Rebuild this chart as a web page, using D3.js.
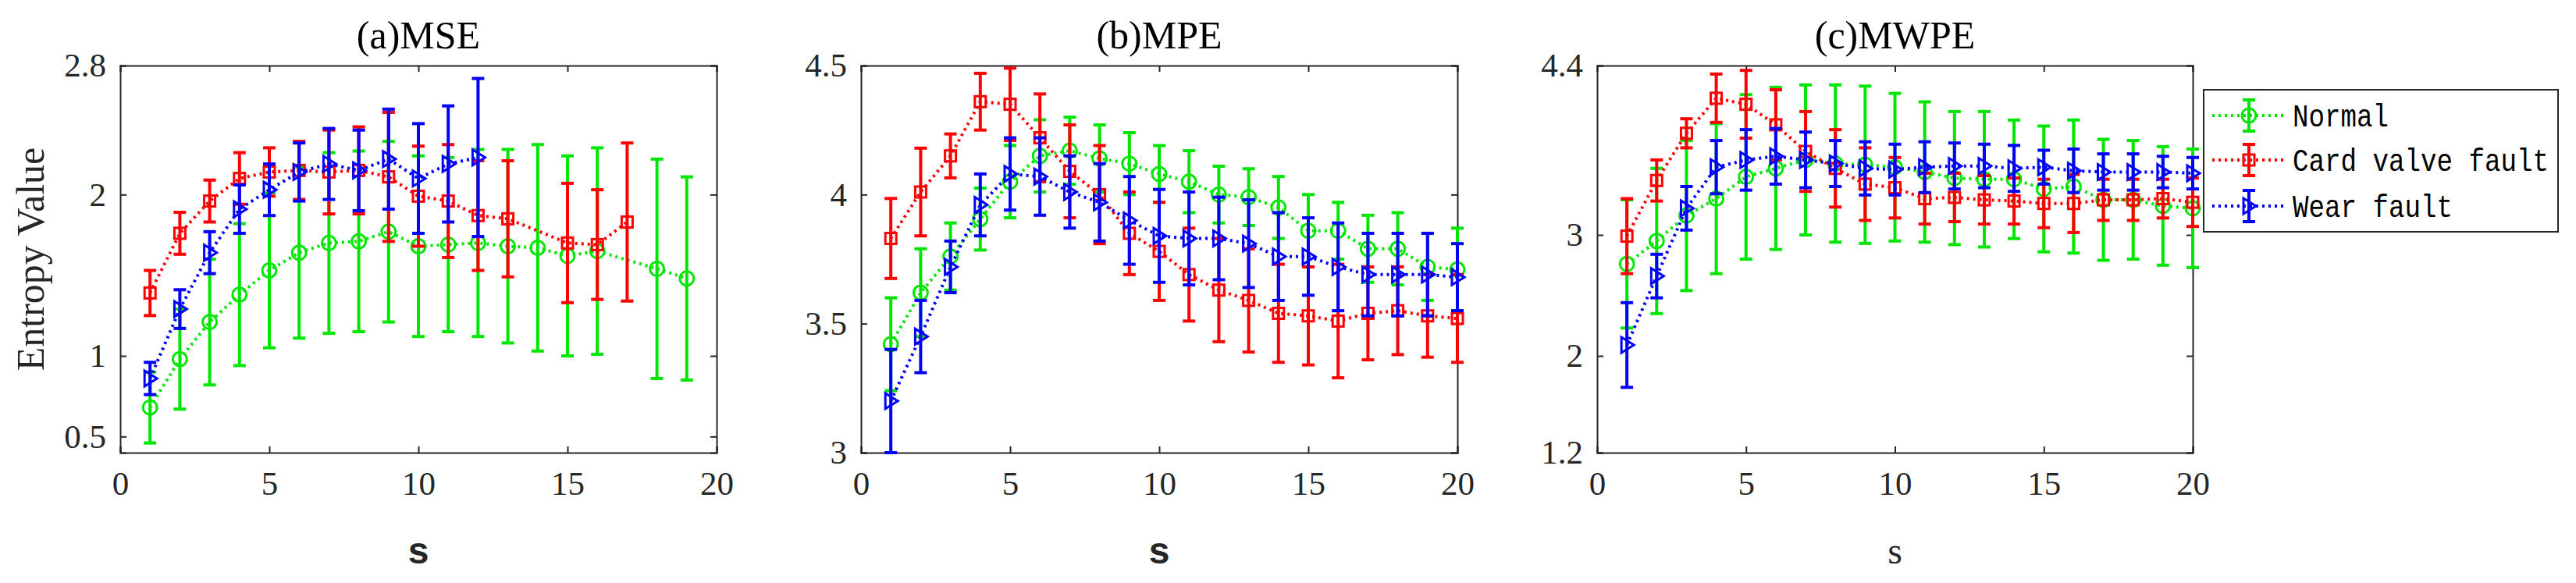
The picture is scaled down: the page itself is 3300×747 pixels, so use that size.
<!DOCTYPE html>
<html><head><meta charset="utf-8">
<script src="https://cdn.jsdelivr.net/npm/d3@7/dist/d3.min.js"></script>
<style>body{margin:0;background:#fff}</style></head>
<body><svg id="c" width="3300" height="747"></svg>
<script>
const seriesNames = ["Normal","Card valve fault","Wear fault"];
const seriesColors = ["#00e600","#ff0000","#0000ff"];
const xTicks = [0,5,10,15,20];
// Panel (a) MSE
const mseNormalX = [1,2,3,4,5,6,7,8,9,10,11,12,13,14,15,16,18,19];
const mseNormal = [0.68,0.98,1.21,1.38,1.53,1.64,1.70,1.71,1.77,1.68,1.69,1.70,1.68,1.67,1.62,1.65,1.54,1.48];
const mseNormalErr = [0.22,0.31,0.39,0.44,0.48,0.53,0.56,0.56,0.56,0.56,0.54,0.58,0.60,0.64,0.62,0.64,0.68,0.63];
const mseCardX = [1,2,3,4,5,6,7,8,9,10,11,12,13,15,16,17];
const mseCard = [1.39,1.76,1.96,2.10,2.14,2.15,2.14,2.15,2.11,1.99,1.96,1.87,1.85,1.70,1.69,1.83];
const mseCardErr = [0.14,0.13,0.13,0.16,0.15,0.18,0.26,0.27,0.40,0.31,0.35,0.34,0.36,0.37,0.34,0.49];
const mseWearX = [1,2,3,4,5,6,7,8,9,10,11,12];
const mseWear = [0.86,1.29,1.64,1.91,2.03,2.14,2.19,2.15,2.22,2.10,2.19,2.23];
const mseWearErr = [0.10,0.12,0.13,0.15,0.16,0.18,0.22,0.25,0.31,0.34,0.36,0.49];
const mseYTicks = [0.5,1,2,2.8];
// Panel (b) MPE
const fullX = [1,2,3,4,5,6,7,8,9,10,11,12,13,14,15,16,17,18,19,20];
const mpeNormal = [3.42,3.62,3.76,3.905,4.05,4.15,4.17,4.14,4.12,4.08,4.05,4.00,3.99,3.95,3.86,3.86,3.79,3.79,3.72,3.71];
const mpeNormalErr = [0.18,0.17,0.13,0.12,0.14,0.14,0.13,0.13,0.12,0.11,0.12,0.11,0.11,0.12,0.14,0.11,0.13,0.14,0.13,0.16];
const mpeCard = [3.83,4.01,4.15,4.36,4.35,4.22,4.09,4.00,3.85,3.78,3.69,3.63,3.59,3.54,3.53,3.51,3.54,3.55,3.53,3.52];
const mpeCardErr = [0.155,0.17,0.085,0.11,0.14,0.17,0.18,0.19,0.16,0.19,0.18,0.2,0.2,0.19,0.19,0.22,0.18,0.17,0.16,0.17];
const mpeWear = [3.20,3.45,3.72,3.96,4.08,4.07,4.01,3.97,3.90,3.84,3.83,3.83,3.81,3.76,3.76,3.72,3.69,3.69,3.69,3.68];
const mpeWearErr = [0.2,0.14,0.1,0.12,0.14,0.15,0.14,0.15,0.17,0.18,0.18,0.16,0.17,0.17,0.15,0.17,0.16,0.16,0.16,0.13];
const mpeYTicks = [3,3.5,4,4.5];
// Panel (c) MWPE
const mwpeNormal = [2.76,2.95,3.16,3.30,3.48,3.55,3.62,3.59,3.58,3.56,3.52,3.47,3.46,3.46,3.38,3.40,3.29,3.29,3.24,3.22];
const mwpeNormalErr = [0.53,0.6,0.62,0.62,0.68,0.67,0.62,0.65,0.65,0.61,0.58,0.55,0.56,0.49,0.52,0.55,0.5,0.49,0.49,0.49];
const mwpeCard = [2.99,3.45,3.84,4.13,4.08,3.91,3.69,3.55,3.42,3.39,3.30,3.31,3.29,3.28,3.26,3.26,3.29,3.29,3.30,3.27];
const mwpeCardErr = [0.31,0.17,0.12,0.2,0.28,0.29,0.33,0.32,0.30,0.25,0.21,0.2,0.2,0.19,0.2,0.24,0.17,0.17,0.16,0.2];
const mwpeWear = [2.09,2.66,3.22,3.56,3.62,3.65,3.62,3.59,3.55,3.54,3.56,3.57,3.57,3.55,3.56,3.53,3.52,3.52,3.52,3.51];
const mwpeWearErr = [0.35,0.18,0.18,0.22,0.25,0.23,0.23,0.19,0.22,0.21,0.21,0.19,0.18,0.19,0.14,0.18,0.15,0.15,0.13,0.13];
const mwpeYTicks = [1.2,2,3,4.4];

(function(){
const svg = d3.select("#c");
const panels = [
 {title:"(a)MSE", l:154, r:918, yd:[0.4,2.8], yt:mseYTicks, ylab:true, sFont:"Liberation Sans", sBold:true,
  s:[[mseNormalX,mseNormal,mseNormalErr],[mseCardX,mseCard,mseCardErr],[mseWearX,mseWear,mseWearErr]]},
 {title:"(b)MPE", l:1103, r:1867, yd:[3,4.5], yt:mpeYTicks, sFont:"Liberation Sans", sBold:true,
  s:[[fullX,mpeNormal,mpeNormalErr],[fullX,mpeCard,mpeCardErr],[fullX,mpeWear,mpeWearErr]]},
 {title:"(c)MWPE", l:2046, r:2809, yd:[1.2,4.4], yt:mwpeYTicks, sFont:"Liberation Serif", sBold:false,
  s:[[fullX,mwpeNormal,mwpeNormalErr],[fullX,mwpeCard,mwpeCardErr],[fullX,mwpeWear,mwpeWearErr]]}
];
const plotTop=84, plotBottom=580;
const serif="Liberation Serif, Times New Roman, serif";

function marker(g, k, x, y, color){
  if(k===0) g.append("circle").attr("cx",x).attr("cy",y).attr("r",9).attr("fill","none").attr("stroke",color).attr("stroke-width",3);
  else if(k===1) g.append("rect").attr("x",x-7).attr("y",y-7).attr("width",14).attr("height",14).attr("fill","none").attr("stroke",color).attr("stroke-width",3);
  else g.append("path").attr("d",`M${x-7},${y-10}L${x+9},${y}L${x-7},${y+10}Z`).attr("fill","none").attr("stroke",color).attr("stroke-width",3);
}

panels.forEach(p=>{
  const x = d3.scaleLinear().domain([0,20]).range([p.l,p.r]);
  const y = d3.scaleLinear().domain(p.yd).range([plotBottom,plotTop]);
  const g = svg.append("g");
  const ax = g.append("g").attr("transform",`translate(0,${plotBottom})`).call(d3.axisBottom(x).tickValues(xTicks).tickSize(-8).tickPadding(22));
  g.append("g").attr("transform",`translate(${p.l},0)`).call(d3.axisLeft(y).tickValues(p.yt).tickSize(-8).tickPadding(18).tickFormat(d=>String(d)));
  g.append("g").attr("transform",`translate(0,${plotTop})`).call(d3.axisTop(x).tickValues(xTicks).tickSize(-8).tickFormat(""));
  g.append("g").attr("transform",`translate(${p.r},0)`).call(d3.axisRight(y).tickValues(p.yt).tickSize(-8).tickFormat(""));
  g.selectAll(".domain").attr("stroke","#262626").attr("stroke-width",2);
  g.selectAll(".tick line").attr("stroke","#262626").attr("stroke-width",2);
  g.selectAll(".tick text").attr("font-family",serif).attr("font-size",43).attr("fill","#262626");
  ax.selectAll(".tick text").attr("dy","0.75em");
  p.s.forEach((s,k)=>{
    const [xs,vs,es]=s, col=seriesColors[k];
    const pts = xs.map((xv,i)=>({x:xv,v:vs[i],e:es[i]}));
    g.append("path").datum(pts).attr("fill","none").attr("stroke",col).attr("stroke-width",4)
      .attr("stroke-dasharray","3,5").attr("d",d3.line().x(d=>x(d.x)).y(d=>y(d.v)));
    pts.forEach(d=>{
      const cx=x(d.x), y1=y(d.v-d.e), y2=y(d.v+d.e);
      g.append("line").attr("x1",cx).attr("x2",cx).attr("y1",y1).attr("y2",y2).attr("stroke",col).attr("stroke-width",4);
      [y1,y2].forEach(yy=>g.append("line").attr("x1",cx-8).attr("x2",cx+8).attr("y1",yy).attr("y2",yy).attr("stroke",col).attr("stroke-width",4));
      marker(g,k,cx,y(d.v),col);
    });
  });
  g.append("text").attr("x",(p.l+p.r)/2).attr("y",62).attr("text-anchor","middle")
    .attr("font-family",serif).attr("font-size",50).attr("fill","#000").text(p.title);
  g.append("text").attr("x",(p.l+p.r)/2).attr("y",722).attr("text-anchor","middle")
    .attr("font-family",p.sFont).attr("font-weight",p.sBold?"bold":"normal").attr("font-size",48).attr("fill","#262626").text("s");
  if(p.ylab) g.append("text").attr("transform",`translate(56,${(plotTop+plotBottom)/2}) rotate(-90)`).attr("text-anchor","middle")
    .attr("font-family",serif).attr("font-size",50).attr("fill","#262626").text("Entropy Value");
});

const lg = svg.append("g");
lg.append("rect").attr("x",2823).attr("y",115).attr("width",454).attr("height",182).attr("fill","#fff").attr("stroke","#262626").attr("stroke-width",2);
seriesNames.forEach((n,k)=>{
  const yy=[148,205,264][k], col=seriesColors[k];
  lg.append("line").attr("x1",2834).attr("x2",2925).attr("y1",yy).attr("y2",yy).attr("stroke",col).attr("stroke-width",4).attr("stroke-dasharray","3,5");
  lg.append("line").attr("x1",2881).attr("x2",2881).attr("y1",yy-20).attr("y2",yy+20).attr("stroke",col).attr("stroke-width",4);
  [yy-20,yy+20].forEach(t=>lg.append("line").attr("x1",2873).attr("x2",2889).attr("y1",t).attr("y2",t).attr("stroke",col).attr("stroke-width",4));
  marker(lg,k,2881,yy,col);
  lg.append("text").attr("x",2937).attr("y",yy+14).attr("font-family","Liberation Mono, DejaVu Sans Mono, monospace")
    .attr("font-size",40).attr("textLength",n.length*20.5).attr("lengthAdjust","spacingAndGlyphs").attr("fill","#000").text(n);
});
})();
</script></body></html>
